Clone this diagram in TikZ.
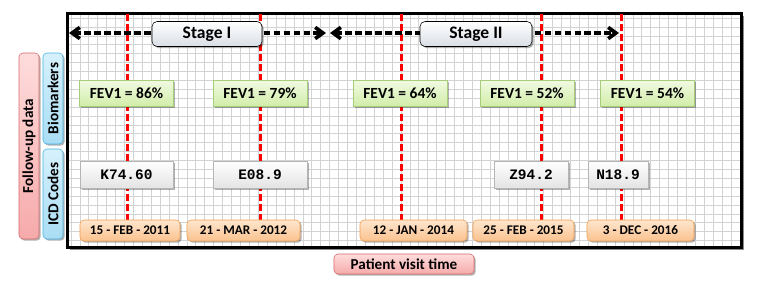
\documentclass[tikz,border=0pt]{standalone}
\usepackage{fontspec}
\setmainfont{Carlito}
\newfontfamily\codefont{Liberation Mono}
\usetikzlibrary{arrows.meta, positioning, shadows}

\definecolor{fevtop}{HTML}{F1FAE2}
\definecolor{fevbot}{HTML}{D2EDAA}
\definecolor{fevline}{HTML}{A6CE78}
\definecolor{codebot}{HTML}{E4E4E4}
\definecolor{codeline}{HTML}{B5B5B5}
\definecolor{datetop}{HTML}{FEE6CE}
\definecolor{datebot}{HTML}{FBC28E}
\definecolor{dateline}{HTML}{F0A050}
\definecolor{pinktop}{HTML}{FFDCDC}
\definecolor{pinkbot}{HTML}{F6AAAA}
\definecolor{pinkline}{HTML}{D46A6A}
\definecolor{bluetop}{HTML}{D6F1FC}
\definecolor{bluebot}{HTML}{A9DDF4}
\definecolor{blueline}{HTML}{44B2E2}
\definecolor{stagebot}{HTML}{D9DEE6}
\definecolor{gridgray}{HTML}{D3D3D3}

\newlength{\unitpx}
\setlength{\unitpx}{0.7113pt}

\begin{document}
\begin{tikzpicture}[
    x=\unitpx, y=-\unitpx,
    softshadow/.style={drop shadow={shadow xshift=1.2pt, shadow yshift=-1.2pt, opacity=0.3, fill=black}},
    box/.style={rectangle, inner sep=0pt, thin, softshadow},
    stage/.style={box, draw=black, rounded corners=5\unitpx, top color=white, bottom color=stagebot, minimum height=25\unitpx, font=\bfseries\fontsize{12.5}{14}\selectfont},
    fev/.style={box, draw=fevline, top color=fevtop, bottom color=fevbot, minimum width=94\unitpx, minimum height=26\unitpx, font=\bfseries\fontsize{11}{13}\selectfont},
    icd/.style={box, draw=codeline, top color=white, bottom color=codebot, minimum height=27\unitpx, font=\codefont\bfseries\fontsize{10.3}{12}\selectfont},
    visit/.style={box, draw=dateline, rounded corners=4\unitpx, top color=datetop, bottom color=datebot, minimum height=21\unitpx, font=\bfseries\fontsize{9.4}{11}\selectfont},
    pinkbox/.style={box, draw=pinkline, rounded corners=4\unitpx, top color=pinktop, bottom color=pinkbot, font=\bfseries\fontsize{10.8}{13}\selectfont},
    bluebox/.style={box, draw=blueline, rounded corners=4\unitpx, top color=bluetop, bottom color=bluebot, minimum height=20\unitpx, rotate=90, font=\bfseries\fontsize{10.8}{13}\selectfont},
    gridline/.style={draw=gridgray, line width=0.8\unitpx},
    visitline/.style={draw=red, line width=3\unitpx, dash pattern=on 7\unitpx off 3\unitpx},
    stagearrow/.style={{Straight Barb[length=5.5pt, width=8pt, line width=2.6pt]}-{Straight Barb[length=5.5pt, width=8pt, line width=2.6pt]}, line width=2.8pt, dash pattern=on 4.8pt off 2.3pt}
]

\useasboundingbox (0,0) rectangle (761,281);

\fill[black!45] (70,16) rectangle (744,250);
\fill[white] (67,13) rectangle (741,247);
\foreach \gx in {0,...,75} \draw[gridline] ({71+8.92*\gx},13) -- ({71+8.92*\gx},247);
\foreach \gy in {0,...,25} \draw[gridline] (67,{18.1+8.9*\gy}) -- (741,{18.1+8.9*\gy});
\draw[line width=3\unitpx] (67,13) rectangle (741,247);

\foreach \rx [count=\ri] in {127,260,401,541,621} {
    \coordinate (top\ri) at (\rx,14);
    \coordinate (bot\ri) at (\rx,220);
    \draw[visitline] (top\ri) -- (bot\ri);
}

\coordinate (s1left) at (69,33);
\coordinate (s1right) at (326,33);
\coordinate (s2left) at (330,33);
\coordinate (s2right) at (619,33);
\draw[stagearrow] (s1left) -- (s1right);
\draw[stagearrow] (s2left) -- (s2right);
\node[stage, minimum width=110\unitpx] (stage1) at (207,34) {Stage I};
\node[stage, minimum width=112\unitpx] (stage2) at (476,34) {Stage II};

\node[fev] (fev1) at (126.5,93) {FEV1 = 86\%};
\node[fev] (fev2) at (260,93) {FEV1 = 79\%};
\node[fev] (fev3) at (400,93) {FEV1 = 64\%};
\node[fev] (fev4) at (527,93) {FEV1 = 52\%};
\node[fev] (fev5) at (647.5,93) {FEV1 = 54\%};

\node[icd, minimum width=93\unitpx] (icd1) at (126.5,174.5) {K74.60};
\node[icd, minimum width=94\unitpx] (icd2) at (260,174.5) {E08.9};
\node[icd, minimum width=74\unitpx] (icd4) at (531,174.5) {Z94.2};
\node[icd, minimum width=60\unitpx] (icd5) at (618,174.5) {N18.9};

\node[visit, minimum width=100\unitpx] (date1) at (130,230.5) {15 - FEB - 2011};
\node[visit, minimum width=113\unitpx] (date2) at (243.5,230.5) {21 - MAR - 2012};
\node[visit, minimum width=107\unitpx] (date3) at (413.5,230.5) {12 - JAN - 2014};
\node[visit, minimum width=101\unitpx] (date4) at (523.5,230.5) {25 - FEB - 2015};
\node[visit, minimum width=107\unitpx] (date5) at (640.5,230.5) {3 - DEC - 2016};

\node[pinkbox, minimum width=140\unitpx, minimum height=20\unitpx] (time) at (404,264) {Patient visit time};

\node[pinkbox, rotate=90, minimum width=186\unitpx, minimum height=20\unitpx] (follow) at (29,146) {Follow-up data};
\node[bluebox, minimum width=91\unitpx] (bio) at (53,98.5) {Biomarkers};
\node[bluebox, minimum width=90\unitpx] (codes) at (53,194) {ICD Codes};

\end{tikzpicture}
\end{document}
